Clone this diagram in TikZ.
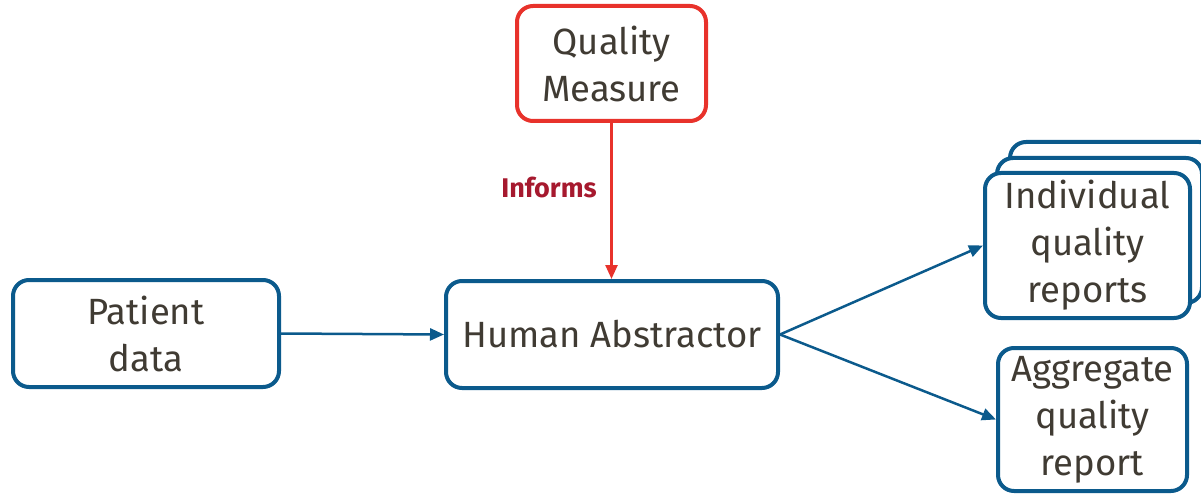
\documentclass[tikz,border=0pt]{standalone}
\usepackage{fontspec}
\setmainfont{Fira Sans}
\usetikzlibrary{arrows.meta}
\definecolor{boxblue}{HTML}{0B5A8C}
\definecolor{boxred}{HTML}{E8322B}
\definecolor{txt}{HTML}{403B33}
\definecolor{informs}{HTML}{A6192E}
\tikzset{
  box/.style={draw=boxblue, line width=4pt, rounded corners=16pt, fill=white,
    align=center, text=txt, font=\fontsize{36.5}{47}\selectfont, inner sep=0pt},
  redbox/.style={box, draw=boxred},
  conn/.style={draw=boxblue, line width=2.5pt, -{Triangle[length=14pt,width=12pt]}},
  redconn/.style={conn, draw=boxred, color=boxred},
}
\begin{document}
\begin{tikzpicture}[x=1pt,y=-1pt]
\useasboundingbox (0,0) rectangle (1201,494);
\clip (0,0) rectangle (1201,494);
\node[box, minimum width=266pt, minimum height=107pt] (P) at (146,333.5) {Patient\\data};
\node[box, minimum width=332pt, minimum height=107pt] (H) at (612,334.5) {Human Abstractor};
\node[redbox, minimum width=189pt, minimum height=115pt] (Q) at (611.5,63.5) {Quality\\Measure};
\node[box, minimum width=205pt, minimum height=145pt] (I3) at (1112.5,214.5) {};
\node[box, minimum width=205pt, minimum height=145pt] (I2) at (1099.5,230.5) {};
\node[box, minimum width=205pt, minimum height=145pt] (I) at (1087.5,245.5) {Individual\\quality\\reports};
\node[box, minimum width=189pt, minimum height=143pt] (A) at (1092.5,419.5) {Aggregate\\quality\\report};
\node[text=informs, font=\fontsize{27}{32}\selectfont\bfseries] (inf) at (549,187) {Informs};
\draw[conn] (P.east) -- (H.west);
\draw[redconn] (Q.south) -- (Q.south |- H.north);
\draw[conn] (H.east) -- (I.west);
\draw[conn] (H.east) -- (A.west);
\end{tikzpicture}
\end{document}
